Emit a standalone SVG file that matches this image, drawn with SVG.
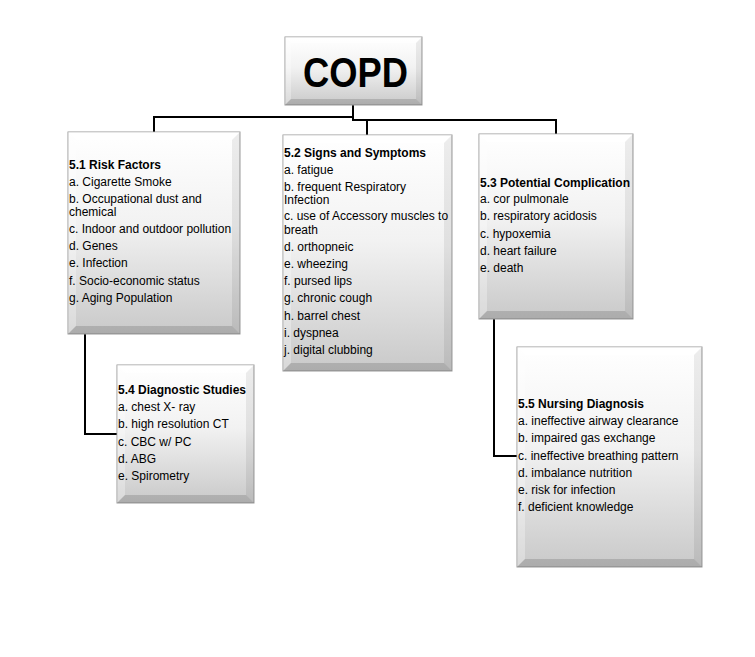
<svg xmlns="http://www.w3.org/2000/svg" width="755" height="657" viewBox="0 0 755 657">
<style>
.box{fill:url(#g);stroke:#9a9a9a;stroke-width:1}
.bt{fill:#fff;fill-opacity:.55}
.bl{fill:#fff;fill-opacity:.3}
.br{fill:#000;fill-opacity:.07}
.bb{fill:#000;fill-opacity:.14}
text{font-family:"Liberation Sans",Arial,sans-serif;font-size:12px;fill:#000}
.h{font-weight:bold}
.conn{fill:none;stroke:#000;stroke-width:2}
</style>
<defs>
<linearGradient id="g" x1="0" y1="0" x2="0" y2="1">
<stop offset="0" stop-color="#ffffff"/>
<stop offset="0.45" stop-color="#f2f2f2"/>
<stop offset="1" stop-color="#c9c9c9"/>
</linearGradient>
</defs>
<rect width="755" height="657" fill="#fff"/>
<g id="connectors">
<path class="conn" d="M154 132 V117 H353 V105"/>
<path class="conn" d="M353 117 V120 H556 V134"/>
<path class="conn" d="M367 120 V135"/>
<path class="conn" d="M85 334 V434 H117"/>
<path class="conn" d="M494 319 V456 H517"/>
</g>
<g id="copd">
<rect class="box" x="285" y="37" width="137" height="68"/>
<polygon class="bt" points="285,37 422,37 416,43 291,43"/>
<polygon class="bl" points="285,37 291,43 291,99 285,105"/>
<polygon class="br" points="422,37 422,105 416,99 416,43"/>
<polygon class="bb" points="285,105 422,105 416,99 291,99"/>
<text x="303" y="87" class="h" style="font-size:42px" textLength="105" lengthAdjust="spacingAndGlyphs">COPD</text>
</g>
<g id="risk">
<rect class="box" x="68" y="132" width="172" height="202"/>
<polygon class="bt" points="68,132 240,132 232,140 76,140"/>
<polygon class="bl" points="68,132 76,140 76,326 68,334"/>
<polygon class="br" points="240,132 240,334 232,326 232,140"/>
<polygon class="bb" points="68,334 240,334 232,326 76,326"/>
<text x="69" y="169" class="h">5.1 Risk Factors</text>
<text x="69" y="186">a. Cigarette Smoke</text>
<text x="69" y="203">b. Occupational dust and</text>
<text x="69" y="216">chemical</text>
<text x="69" y="233">c. Indoor and outdoor pollution</text>
<text x="69" y="250">d. Genes</text>
<text x="69" y="267">e. Infection</text>
<text x="69" y="285">f. Socio-economic status</text>
<text x="69" y="302">g. Aging Population</text>
</g>
<g id="signs">
<rect class="box" x="283" y="135" width="169" height="236"/>
<polygon class="bt" points="283,135 452,135 444,143 291,143"/>
<polygon class="bl" points="283,135 291,143 291,363 283,371"/>
<polygon class="br" points="452,135 452,371 444,363 444,143"/>
<polygon class="bb" points="283,371 452,371 444,363 291,363"/>
<text x="284" y="157" class="h">5.2 Signs and Symptoms</text>
<text x="284" y="174">a. fatigue</text>
<text x="284" y="191">b. frequent Respiratory</text>
<text x="284" y="204">Infection</text>
<text x="284" y="220">c. use of Accessory muscles to</text>
<text x="284" y="234">breath</text>
<text x="284" y="251">d. orthopneic</text>
<text x="284" y="268">e. wheezing</text>
<text x="284" y="285">f. pursed lips</text>
<text x="284" y="302">g. chronic cough</text>
<text x="284" y="320">h. barrel chest</text>
<text x="284" y="337">i. dyspnea</text>
<text x="284" y="354">j. digital clubbing</text>
</g>
<g id="complication">
<rect class="box" x="479" y="134" width="154" height="185"/>
<polygon class="bt" points="479,134 633,134 625,142 487,142"/>
<polygon class="bl" points="479,134 487,142 487,311 479,319"/>
<polygon class="br" points="633,134 633,319 625,311 625,142"/>
<polygon class="bb" points="479,319 633,319 625,311 487,311"/>
<text x="480" y="187" class="h">5.3 Potential Complication</text>
<text x="480" y="203">a. cor pulmonale</text>
<text x="480" y="220">b. respiratory acidosis</text>
<text x="480" y="238">c. hypoxemia</text>
<text x="480" y="255">d. heart failure</text>
<text x="480" y="272">e. death</text>
</g>
<g id="diagnostic">
<rect class="box" x="117" y="365" width="137" height="138"/>
<polygon class="bt" points="117,365 254,365 246,373 125,373"/>
<polygon class="bl" points="117,365 125,373 125,495 117,503"/>
<polygon class="br" points="254,365 254,503 246,495 246,373"/>
<polygon class="bb" points="117,503 254,503 246,495 125,495"/>
<text x="118" y="394" class="h">5.4 Diagnostic Studies</text>
<text x="118" y="411">a. chest X- ray</text>
<text x="118" y="428">b. high resolution CT</text>
<text x="118" y="446">c. CBC w/ PC</text>
<text x="118" y="463">d. ABG</text>
<text x="118" y="480">e. Spirometry</text>
</g>
<g id="nursing">
<rect class="box" x="517" y="347" width="185" height="220"/>
<polygon class="bt" points="517,347 702,347 694,355 525,355"/>
<polygon class="bl" points="517,347 525,355 525,559 517,567"/>
<polygon class="br" points="702,347 702,567 694,559 694,355"/>
<polygon class="bb" points="517,567 702,567 694,559 525,559"/>
<text x="518" y="408" class="h">5.5 Nursing Diagnosis</text>
<text x="518" y="425">a. ineffective airway clearance</text>
<text x="518" y="442">b. impaired gas exchange</text>
<text x="518" y="460">c. ineffective breathing pattern</text>
<text x="518" y="477">d. imbalance nutrition</text>
<text x="518" y="494">e. risk for infection</text>
<text x="518" y="511">f. deficient knowledge</text>
</g>
</svg>
